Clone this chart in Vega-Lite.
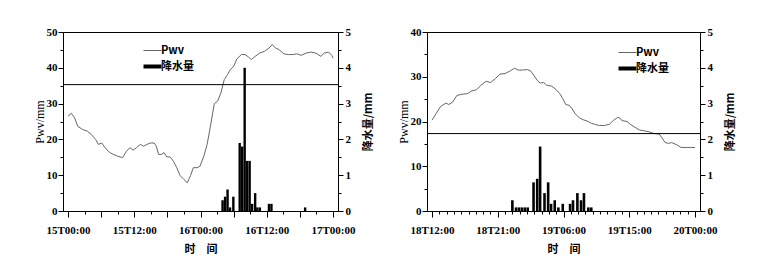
{
  "$schema": "https://vega.github.io/schema/vega-lite/v6.json",
  "background": "white",
  "padding": {"left": 32, "top": 25, "right": 5, "bottom": 5},
  "spacing": 22,
  "config": {
    "view": {"stroke": "black", "strokeWidth": 1},
    "axis": {
      "domainColor": "black", "tickColor": "black", "labelColor": "black", "titleColor": "black",
      "labelFont": "Liberation Serif", "labelFontSize": 11, "labelFontWeight": "bold",
      "titleFont": "Liberation Serif", "titleFontSize": 12, "titleFontWeight": "normal",
      "grid": false, "labelPadding": 2, "labelOverlap": false
    },
    "legend": {
      "labelFont": "Noto Sans CJK SC", "labelFontSize": 11, "labelFontWeight": "bold", "labelColor": "black",
      "symbolType": "stroke", "symbolSize": 324, "rowPadding": 2, "padding": 0, "labelOffset": 3
    }
  },
  "datasets": {
    "pa": [
      {"t": "2000-01-15T00:00Z", "pwv": 26.5}, {"t": "2000-01-15T00:36Z", "pwv": 27.3},
      {"t": "2000-01-15T01:12Z", "pwv": 26.0}, {"t": "2000-01-15T01:45Z", "pwv": 23.7},
      {"t": "2000-01-15T02:36Z", "pwv": 22.8}, {"t": "2000-01-15T03:30Z", "pwv": 22.3},
      {"t": "2000-01-15T04:12Z", "pwv": 21.4}, {"t": "2000-01-15T05:00Z", "pwv": 20.0},
      {"t": "2000-01-15T05:30Z", "pwv": 18.6}, {"t": "2000-01-15T06:06Z", "pwv": 19.0},
      {"t": "2000-01-15T06:42Z", "pwv": 17.7}, {"t": "2000-01-15T07:30Z", "pwv": 16.4},
      {"t": "2000-01-15T08:12Z", "pwv": 15.8}, {"t": "2000-01-15T09:00Z", "pwv": 15.3},
      {"t": "2000-01-15T09:54Z", "pwv": 14.9}, {"t": "2000-01-15T10:36Z", "pwv": 16.7},
      {"t": "2000-01-15T11:12Z", "pwv": 17.7}, {"t": "2000-01-15T11:48Z", "pwv": 17.0},
      {"t": "2000-01-15T12:24Z", "pwv": 17.7}, {"t": "2000-01-15T13:06Z", "pwv": 18.6},
      {"t": "2000-01-15T13:42Z", "pwv": 18.1}, {"t": "2000-01-15T14:18Z", "pwv": 18.6},
      {"t": "2000-01-15T14:54Z", "pwv": 19.0}, {"t": "2000-01-15T15:36Z", "pwv": 19.0},
      {"t": "2000-01-15T16:00Z", "pwv": 18.1}, {"t": "2000-01-15T16:24Z", "pwv": 15.8},
      {"t": "2000-01-15T16:54Z", "pwv": 15.8}, {"t": "2000-01-15T17:24Z", "pwv": 16.3},
      {"t": "2000-01-15T17:54Z", "pwv": 15.1}, {"t": "2000-01-15T18:30Z", "pwv": 15.1},
      {"t": "2000-01-15T19:06Z", "pwv": 13.9}, {"t": "2000-01-15T19:42Z", "pwv": 12.1},
      {"t": "2000-01-15T20:18Z", "pwv": 9.9}, {"t": "2000-01-15T21:00Z", "pwv": 8.8},
      {"t": "2000-01-15T21:36Z", "pwv": 7.9}, {"t": "2000-01-15T22:12Z", "pwv": 9.9},
      {"t": "2000-01-15T22:42Z", "pwv": 12.1}, {"t": "2000-01-15T23:24Z", "pwv": 12.1},
      {"t": "2000-01-15T23:54Z", "pwv": 12.5}, {"t": "2000-01-16T00:36Z", "pwv": 15.3},
      {"t": "2000-01-16T01:12Z", "pwv": 18.6}, {"t": "2000-01-16T01:48Z", "pwv": 23.7},
      {"t": "2000-01-16T02:30Z", "pwv": 30.0}, {"t": "2000-01-16T03:06Z", "pwv": 30.7},
      {"t": "2000-01-16T03:42Z", "pwv": 33.0}, {"t": "2000-01-16T04:18Z", "pwv": 36.7},
      {"t": "2000-01-16T04:54Z", "pwv": 38.1}, {"t": "2000-01-16T05:24Z", "pwv": 39.5},
      {"t": "2000-01-16T06:00Z", "pwv": 40.4}, {"t": "2000-01-16T06:36Z", "pwv": 42.5},
      {"t": "2000-01-16T07:24Z", "pwv": 43.7}, {"t": "2000-01-16T08:06Z", "pwv": 43.7},
      {"t": "2000-01-16T08:42Z", "pwv": 43.0}, {"t": "2000-01-16T09:12Z", "pwv": 42.3},
      {"t": "2000-01-16T09:54Z", "pwv": 43.2}, {"t": "2000-01-16T10:42Z", "pwv": 44.1},
      {"t": "2000-01-16T11:36Z", "pwv": 44.6}, {"t": "2000-01-16T12:24Z", "pwv": 45.5},
      {"t": "2000-01-16T13:00Z", "pwv": 46.5}, {"t": "2000-01-16T13:36Z", "pwv": 45.5},
      {"t": "2000-01-16T14:12Z", "pwv": 45.1}, {"t": "2000-01-16T15:06Z", "pwv": 43.9},
      {"t": "2000-01-16T15:54Z", "pwv": 43.7}, {"t": "2000-01-16T16:48Z", "pwv": 43.7},
      {"t": "2000-01-16T17:24Z", "pwv": 43.9}, {"t": "2000-01-16T18:18Z", "pwv": 43.5},
      {"t": "2000-01-16T19:06Z", "pwv": 44.1}, {"t": "2000-01-16T20:00Z", "pwv": 44.4},
      {"t": "2000-01-16T20:54Z", "pwv": 44.1}, {"t": "2000-01-16T21:48Z", "pwv": 43.2},
      {"t": "2000-01-16T22:24Z", "pwv": 44.1}, {"t": "2000-01-16T23:12Z", "pwv": 44.4},
      {"t": "2000-01-16T23:48Z", "pwv": 43.4}, {"t": "2000-01-17T00:00Z", "pwv": 42.7}
    ],
    "ra": [
      {"t": "2000-01-16T04:00Z", "rain": 0.3}, {"t": "2000-01-16T04:27Z", "rain": 0.4},
      {"t": "2000-01-16T04:54Z", "rain": 0.6}, {"t": "2000-01-16T05:21Z", "rain": 0.1},
      {"t": "2000-01-16T05:57Z", "rain": 0.4}, {"t": "2000-01-16T07:06Z", "rain": 1.9},
      {"t": "2000-01-16T07:33Z", "rain": 1.8}, {"t": "2000-01-16T08:00Z", "rain": 4.0},
      {"t": "2000-01-16T08:27Z", "rain": 1.4}, {"t": "2000-01-16T08:54Z", "rain": 1.4},
      {"t": "2000-01-16T09:21Z", "rain": 0.2}, {"t": "2000-01-16T09:54Z", "rain": 0.5},
      {"t": "2000-01-16T10:18Z", "rain": 0.1}, {"t": "2000-01-16T10:45Z", "rain": 0.1},
      {"t": "2000-01-16T12:24Z", "rain": 0.2}, {"t": "2000-01-16T12:51Z", "rain": 0.2},
      {"t": "2000-01-16T18:57Z", "rain": 0.1}
    ],
    "pb": [
      {"t": "2000-01-18T12:00Z", "pwv": 20.3}, {"t": "2000-01-18T12:34Z", "pwv": 21.8},
      {"t": "2000-01-18T13:12Z", "pwv": 23.4}, {"t": "2000-01-18T13:54Z", "pwv": 24.1},
      {"t": "2000-01-18T14:18Z", "pwv": 23.8}, {"t": "2000-01-18T14:48Z", "pwv": 24.3},
      {"t": "2000-01-18T15:24Z", "pwv": 25.8}, {"t": "2000-01-18T16:06Z", "pwv": 26.1},
      {"t": "2000-01-18T16:48Z", "pwv": 26.2}, {"t": "2000-01-18T17:24Z", "pwv": 26.8},
      {"t": "2000-01-18T18:06Z", "pwv": 27.1}, {"t": "2000-01-18T18:42Z", "pwv": 28.1},
      {"t": "2000-01-18T19:24Z", "pwv": 29.0}, {"t": "2000-01-18T20:00Z", "pwv": 28.7},
      {"t": "2000-01-18T20:42Z", "pwv": 29.6}, {"t": "2000-01-18T21:18Z", "pwv": 30.6},
      {"t": "2000-01-18T22:00Z", "pwv": 30.7}, {"t": "2000-01-18T22:42Z", "pwv": 31.3},
      {"t": "2000-01-18T23:18Z", "pwv": 31.9}, {"t": "2000-01-18T23:48Z", "pwv": 31.5},
      {"t": "2000-01-19T00:24Z", "pwv": 31.5}, {"t": "2000-01-19T01:06Z", "pwv": 31.6},
      {"t": "2000-01-19T01:30Z", "pwv": 31.3}, {"t": "2000-01-19T01:54Z", "pwv": 30.4},
      {"t": "2000-01-19T02:24Z", "pwv": 29.2}, {"t": "2000-01-19T02:48Z", "pwv": 28.6},
      {"t": "2000-01-19T03:18Z", "pwv": 28.7}, {"t": "2000-01-19T03:42Z", "pwv": 28.1},
      {"t": "2000-01-19T04:24Z", "pwv": 27.9}, {"t": "2000-01-19T05:00Z", "pwv": 27.1},
      {"t": "2000-01-19T05:30Z", "pwv": 26.2}, {"t": "2000-01-19T05:54Z", "pwv": 25.1},
      {"t": "2000-01-19T06:18Z", "pwv": 23.8}, {"t": "2000-01-19T06:48Z", "pwv": 23.6},
      {"t": "2000-01-19T07:12Z", "pwv": 22.8}, {"t": "2000-01-19T07:36Z", "pwv": 21.7},
      {"t": "2000-01-19T08:12Z", "pwv": 20.8}, {"t": "2000-01-19T08:42Z", "pwv": 20.4},
      {"t": "2000-01-19T09:24Z", "pwv": 20.0}, {"t": "2000-01-19T09:48Z", "pwv": 19.6},
      {"t": "2000-01-19T10:24Z", "pwv": 19.3}, {"t": "2000-01-19T10:54Z", "pwv": 19.1},
      {"t": "2000-01-19T11:36Z", "pwv": 19.1}, {"t": "2000-01-19T12:18Z", "pwv": 19.4},
      {"t": "2000-01-19T12:48Z", "pwv": 20.2}, {"t": "2000-01-19T13:24Z", "pwv": 20.9},
      {"t": "2000-01-19T13:42Z", "pwv": 20.8}, {"t": "2000-01-19T14:00Z", "pwv": 20.2},
      {"t": "2000-01-19T14:42Z", "pwv": 20.0}, {"t": "2000-01-19T15:12Z", "pwv": 19.3},
      {"t": "2000-01-19T15:48Z", "pwv": 18.7}, {"t": "2000-01-19T16:24Z", "pwv": 18.1},
      {"t": "2000-01-19T17:06Z", "pwv": 17.9}, {"t": "2000-01-19T17:42Z", "pwv": 17.7},
      {"t": "2000-01-19T18:24Z", "pwv": 17.3}, {"t": "2000-01-19T19:06Z", "pwv": 17.2},
      {"t": "2000-01-19T19:30Z", "pwv": 16.3}, {"t": "2000-01-19T19:54Z", "pwv": 15.3},
      {"t": "2000-01-19T20:24Z", "pwv": 15.1}, {"t": "2000-01-19T20:48Z", "pwv": 15.3},
      {"t": "2000-01-19T21:30Z", "pwv": 14.8}, {"t": "2000-01-19T22:06Z", "pwv": 14.2},
      {"t": "2000-01-19T22:48Z", "pwv": 14.2}, {"t": "2000-01-19T23:24Z", "pwv": 14.2},
      {"t": "2000-01-20T00:00Z", "pwv": 14.2}
    ],
    "rb": [
      {"t": "2000-01-18T23:00Z", "rain": 0.3}, {"t": "2000-01-18T23:30Z", "rain": 0.1},
      {"t": "2000-01-18T23:54Z", "rain": 0.1}, {"t": "2000-01-19T00:18Z", "rain": 0.1},
      {"t": "2000-01-19T00:42Z", "rain": 0.1}, {"t": "2000-01-19T01:06Z", "rain": 0.1},
      {"t": "2000-01-19T01:54Z", "rain": 0.8}, {"t": "2000-01-19T02:24Z", "rain": 0.9},
      {"t": "2000-01-19T02:48Z", "rain": 1.8}, {"t": "2000-01-19T03:24Z", "rain": 0.5},
      {"t": "2000-01-19T03:54Z", "rain": 0.8}, {"t": "2000-01-19T04:18Z", "rain": 0.2},
      {"t": "2000-01-19T04:48Z", "rain": 0.3}, {"t": "2000-01-19T05:18Z", "rain": 0.1},
      {"t": "2000-01-19T05:54Z", "rain": 0.2}, {"t": "2000-01-19T06:54Z", "rain": 0.2},
      {"t": "2000-01-19T07:18Z", "rain": 0.3}, {"t": "2000-01-19T07:54Z", "rain": 0.5},
      {"t": "2000-01-19T08:24Z", "rain": 0.3}, {"t": "2000-01-19T08:48Z", "rain": 0.5},
      {"t": "2000-01-19T09:24Z", "rain": 0.1}, {"t": "2000-01-19T09:48Z", "rain": 0.1}
    ]
  },
  "hconcat": [
    {
      "width": 275,
      "height": 179,
      "layer": [
        {
          "data": {"name": "ra"},
          "mark": {"type": "bar", "size": 2.4},
          "encoding": {
            "x": {"field": "t", "type": "temporal",
              "scale": {"type": "utc", "domain": [{"utc": true, "year": 2000, "month": 1, "date": 15}, {"utc": true, "year": 2000, "month": 1, "date": 17}]},
              "axis": {"title": "时　间", "titleFont": "Noto Sans CJK SC", "titleFontWeight": "bold", "titleFontSize": 11, "titlePadding": 8,
                "tickCount": 24, "labelPadding": 7, "labelOverlap": false,
                "labelExpr": "utchours(datum.value) % 12 == 0 ? utcFormat(datum.value, '%dT%H:%M') : ''",
                "tickSize": {"condition": {"test": "utchours(datum.value) % 6 == 0", "value": 6}, "value": 3}}},
            "y": {"field": "rain", "type": "quantitative",
              "scale": {"domain": [0, 5]},
              "axis": {"orient": "right", "title": "降水量/mm", "titleFont": "Noto Sans CJK SC", "titleFontWeight": "bold", "titleFontSize": 11, "titleAngle": -90, "titleBaseline": "top", "titlePadding": 12,
                "values": [0, 0.5, 1, 1.5, 2, 2.5, 3, 3.5, 4, 4.5, 5], "labelOverlap": false,
                "labelExpr": "datum.value % 1 == 0 ? format(datum.value, 'd') : ''",
                "labelFontSize": {"condition": {"test": "datum.value % 1 == 0", "value": 11}, "value": 0},
                "tickSize": {"condition": {"test": "datum.value % 1 == 0", "value": 5}, "value": 3}}},
            "color": {"datum": "降水量", "type": "nominal",
              "scale": {"domain": ["Pwv", "降水量"], "range": ["#666666", "black"]},
              "legend": {"title": null, "orient": "none", "legendX": 84, "legendY": 13,
                "encode": {"symbols": {"update": {"strokeWidth": {"signal": "datum.value === '降水量' ? 4 : 1"}}}}}}
          }
        },
        {
          "layer": [
            {
              "data": {"name": "pa"},
              "mark": {"type": "line", "strokeWidth": 1},
              "encoding": {
                "x": {"field": "t", "type": "temporal"},
                "y": {"field": "pwv", "type": "quantitative",
                  "scale": {"domain": [0, 50]},
                  "axis": {"orient": "left", "title": "Pwv/mm", "titlePadding": 0, "labelOverlap": false, "labelPadding": 1,
                    "values": [0, 5, 10, 15, 20, 25, 30, 35, 40, 45, 50],
                    "labelExpr": "datum.value % 10 == 0 ? format(datum.value, 'd') : ''",
                    "labelFontSize": {"condition": {"test": "datum.value % 10 == 0", "value": 11}, "value": 0},
                    "tickSize": {"condition": {"test": "datum.value % 10 == 0", "value": 5}, "value": 3}}},
                "color": {"datum": "Pwv", "type": "nominal"}
              }
            },
            {
              "data": {"values": [{"thr": 35.3}]},
              "mark": {"type": "rule", "color": "black", "strokeWidth": 1},
              "encoding": {"y": {"field": "thr", "type": "quantitative",
                  "axis": {"orient": "left", "title": "Pwv/mm", "titlePadding": 0, "labelOverlap": false, "labelPadding": 1,
                    "values": [0, 5, 10, 15, 20, 25, 30, 35, 40, 45, 50],
                    "labelExpr": "datum.value % 10 == 0 ? format(datum.value, 'd') : ''",
                    "labelFontSize": {"condition": {"test": "datum.value % 10 == 0", "value": 11}, "value": 0},
                    "tickSize": {"condition": {"test": "datum.value % 10 == 0", "value": 5}, "value": 3}}}}
            }
          ]
        }
      ],
      "resolve": {"scale": {"y": "independent"}}
    },
    {
      "width": 273,
      "height": 179,
      "layer": [
        {
          "data": {"name": "rb"},
          "mark": {"type": "bar", "size": 2.6},
          "encoding": {
            "x": {"field": "t", "type": "temporal",
              "scale": {"type": "utc", "domain": [{"utc": true, "year": 2000, "month": 1, "date": 18, "hours": 12}, {"utc": true, "year": 2000, "month": 1, "date": 20}]},
              "axis": {"title": "时　间", "titleFont": "Noto Sans CJK SC", "titleFontWeight": "bold", "titleFontSize": 11, "titlePadding": 8,
                "tickCount": 36, "labelPadding": 7, "labelOverlap": false,
                "labelExpr": "(datum.value - utc(2000, 0, 18, 12)) % 32400000 == 0 ? utcFormat(datum.value, '%dT%H:%M') : ''",
                "tickSize": {"condition": {"test": "(datum.value - utc(2000, 0, 18, 12)) % 32400000 == 0", "value": 6}, "value": 3}}},
            "y": {"field": "rain", "type": "quantitative",
              "scale": {"domain": [0, 5]},
              "axis": {"orient": "right", "title": "降水量/mm", "titleFont": "Noto Sans CJK SC", "titleFontWeight": "bold", "titleFontSize": 11, "titleAngle": -90, "titleBaseline": "top", "titlePadding": 12,
                "values": [0, 0.5, 1, 1.5, 2, 2.5, 3, 3.5, 4, 4.5, 5], "labelOverlap": false,
                "labelExpr": "datum.value % 1 == 0 ? format(datum.value, 'd') : ''",
                "labelFontSize": {"condition": {"test": "datum.value % 1 == 0", "value": 11}, "value": 0},
                "tickSize": {"condition": {"test": "datum.value % 1 == 0", "value": 5}, "value": 3}}},
            "color": {"datum": "降水量", "type": "nominal",
              "scale": {"domain": ["Pwv", "降水量"], "range": ["#666666", "black"]},
              "legend": {"title": null, "orient": "none", "legendX": 195, "legendY": 15,
                "encode": {"symbols": {"update": {"strokeWidth": {"signal": "datum.value === '降水量' ? 4 : 1"}}}}}}
          }
        },
        {
          "layer": [
            {
              "data": {"name": "pb"},
              "mark": {"type": "line", "strokeWidth": 1},
              "encoding": {
                "x": {"field": "t", "type": "temporal"},
                "y": {"field": "pwv", "type": "quantitative",
                  "scale": {"domain": [0, 40]},
                  "axis": {"orient": "left", "title": "Pwv/mm", "titlePadding": 0, "labelOverlap": false, "labelPadding": 1,
                    "values": [0, 5, 10, 15, 20, 25, 30, 35, 40],
                    "labelExpr": "datum.value % 10 == 0 ? format(datum.value, 'd') : ''",
                    "labelFontSize": {"condition": {"test": "datum.value % 10 == 0", "value": 11}, "value": 0},
                    "tickSize": {"condition": {"test": "datum.value % 10 == 0", "value": 5}, "value": 3}}},
                "color": {"datum": "Pwv", "type": "nominal"}
              }
            },
            {
              "data": {"values": [{"thr": 17.3}]},
              "mark": {"type": "rule", "color": "black", "strokeWidth": 1},
              "encoding": {"y": {"field": "thr", "type": "quantitative",
                  "axis": {"orient": "left", "title": "Pwv/mm", "titlePadding": 0, "labelOverlap": false, "labelPadding": 1,
                    "values": [0, 5, 10, 15, 20, 25, 30, 35, 40],
                    "labelExpr": "datum.value % 10 == 0 ? format(datum.value, 'd') : ''",
                    "labelFontSize": {"condition": {"test": "datum.value % 10 == 0", "value": 11}, "value": 0},
                    "tickSize": {"condition": {"test": "datum.value % 10 == 0", "value": 5}, "value": 3}}}}
            }
          ]
        }
      ],
      "resolve": {"scale": {"y": "independent"}}
    }
  ],
  "resolve": {"scale": {"color": "independent"}}
}
